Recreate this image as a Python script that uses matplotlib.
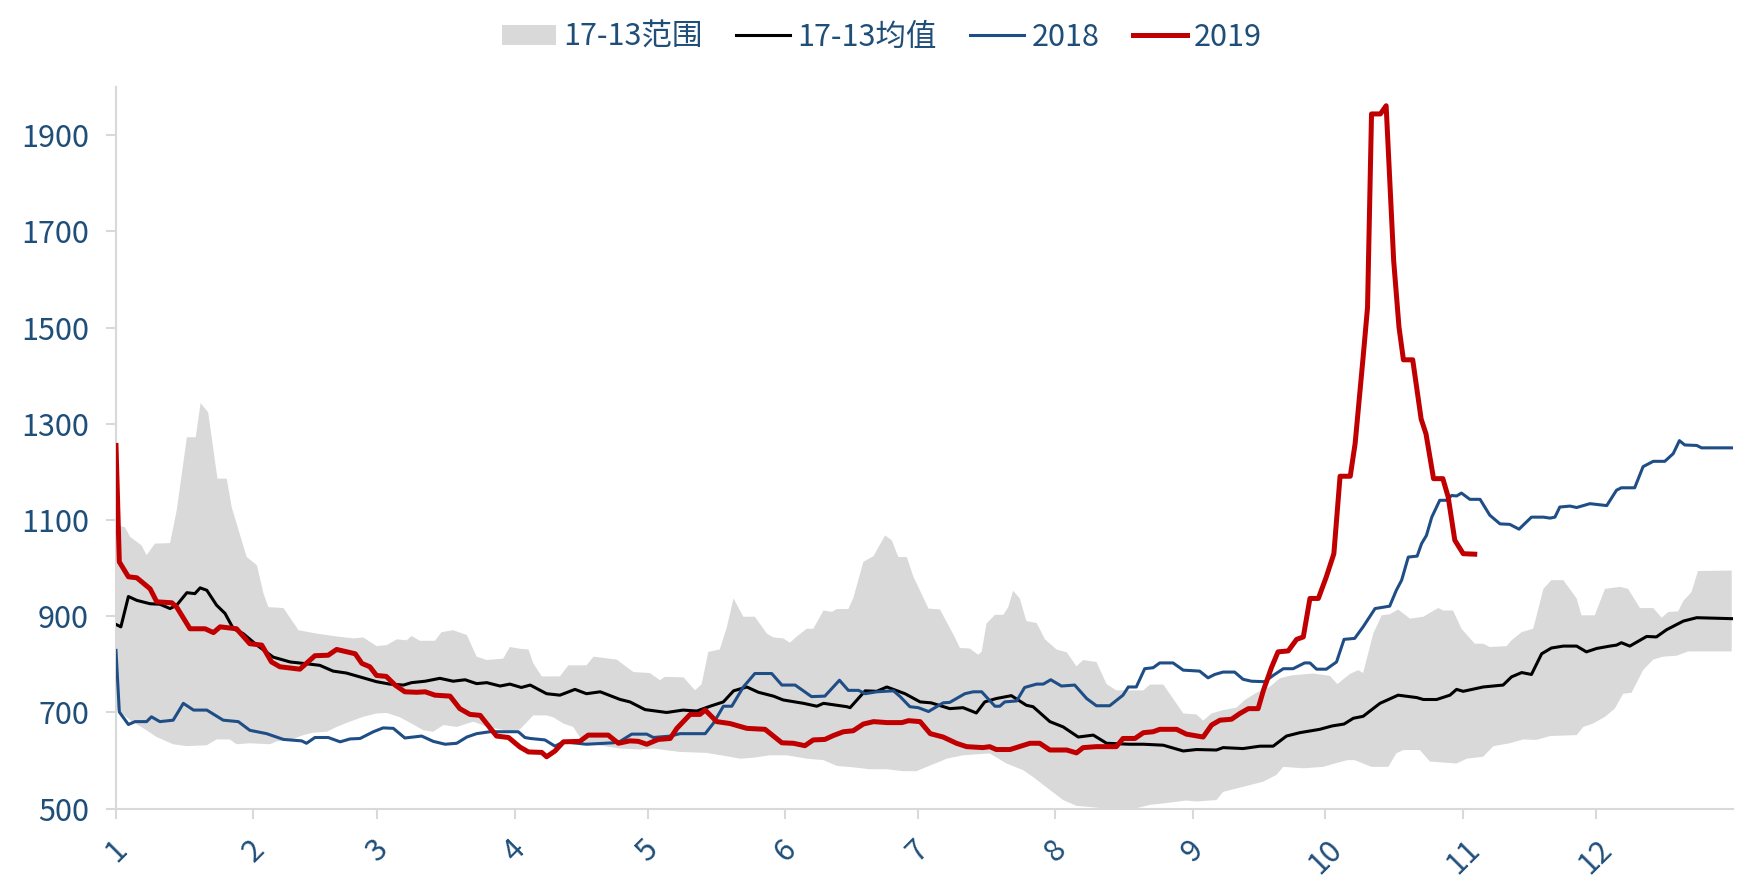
import numpy as np
import matplotlib
matplotlib.use("Agg")
import matplotlib.pyplot as plt

plt.rcParams['font.family'] = ['Noto Sans CJK SC', 'DejaVu Sans']

# day of year (0 = 1 Jan) and values
red_day = [0, 0.75, 2.8, 4.7, 7.7, 9.2, 12.6, 13.7, 16.7, 20.1, 22, 23.5, 27.2, 30.2, 32.9, 35.1, 37,
           41.5, 44.9, 47.9, 49.8, 54, 55.5, 57.3, 58.8, 61, 63, 65.2, 67.9, 69.8, 72, 75.4, 77.6,
           79.9, 82.2, 85.9, 88.6, 91.2, 93.1, 96.1, 97.2, 99.1, 101, 104.7, 106.6, 111.1, 113.4,
           116, 117.9, 119.8, 122.4, 125.1, 126.6, 129.6, 131.8, 133, 135.6, 138.6, 142.4, 146.5,
           150.3, 152.9, 155.5, 157.4, 160, 161.9, 164.2, 166.4, 168.7, 171, 174, 177.4, 178.9,
           181.5, 183.8, 186.7, 189.7, 192, 195.7, 197.2, 198.7, 201.8, 206.3, 208.5, 210.8, 214.6,
           216.8, 218.3, 221.3, 225.8, 227.3, 230, 231.9, 234.1, 235.6, 239.4, 241.6, 245.4, 247.3,
           249.2, 251.8, 253.7, 255.6, 257.8, 259, 260.8, 262.3, 264.6, 266.5, 268, 269.5, 271.4,
           273.2, 274.9, 276.3, 278.6, 279.7, 281.5, 282.5, 283.4, 285.4, 286.7, 287.3, 288.4,
           289.6, 290.6, 292.7, 294.6, 295.7, 297.4, 299.5, 300.7, 302.2, 304.1, 306.7]
red_val = [1255, 1013, 982, 980, 957, 930, 928, 919, 874, 874, 866, 878, 874, 843, 840, 805, 795,
           790, 818, 819, 831, 822, 802, 795, 777, 775, 757, 743, 742, 743, 736, 734, 708,
           696, 694, 651, 648, 628, 618, 617, 608, 620, 639, 640, 653, 653, 636,
           641, 640, 634, 644, 646, 667, 696, 696, 705, 681, 677, 667, 665,
           637, 636, 631, 643, 644, 652, 660, 662, 676, 681, 679, 679, 683,
           681, 656, 649, 636, 629, 627, 629, 623, 623, 636, 636, 622, 622,
           616, 627, 629, 629, 646, 646, 658, 660, 665, 665, 655, 649, 674,
           684, 686, 698, 708, 708, 746, 793, 826, 828, 852, 857, 937, 937,
           982, 1030, 1191, 1191, 1259, 1438, 1542, 1944, 1944, 1961, 1847, 1639,
           1501, 1433, 1433, 1310, 1279, 1186, 1186, 1148, 1058, 1030, 1029]

mean_day = [0, 1.1, 2.8, 4.7, 7.7, 9.9, 12.2, 13.7, 16, 17.8, 19, 20.5, 22.7, 24.6, 26.5, 28.7, 31.8,
            35.5, 39.3, 42.3, 46, 49, 52, 55.8, 58.8, 61.8, 64.9, 66.7, 69.8, 73.1, 76.1, 78.8,
            81.4, 83.7, 86.7, 88.9, 91.5, 93.5, 97.2, 100.2, 103.6, 106.2, 109.3, 113.8, 116,
            119.4, 124.3, 128, 131.1, 134.1, 137.1, 139.4, 142.4, 145, 148.4, 150.6, 155.2, 158.2,
            159.7, 165, 165.7, 169.1, 171.7, 174, 178.1, 181.5, 184, 188.2, 191.2, 194.2, 196.1,
            198.7, 202.1, 205.5, 207, 210.8, 213.8, 217.2, 220.6, 223.6, 228.8, 231.9, 236.4,
            240.9, 243.9, 248.4, 249.9, 254.4, 258.2, 261.2, 264.2, 267.2, 271.7, 274.5, 277.2,
            279.3, 281.5, 285.3, 289.4, 293.6, 295.1, 298.1, 301.1, 302.6, 304.1, 308.6, 313.1,
            315, 317.3, 319.5, 321.8, 324, 326.7, 329.7, 331.9, 334.2, 337.2, 338.7, 339.8, 341.7,
            345.5, 347.7, 350, 353.8, 356.8, 364.7]
mean_val = [883, 878, 941, 933, 926, 925, 916, 923, 949, 947, 959, 954, 923, 906, 874, 864, 840,
            815, 805, 802, 798, 786, 782, 772, 764, 759, 757, 762, 765, 771, 765, 768,
            760, 762, 755, 759, 752, 757, 739, 736, 748, 739, 743, 727, 722,
            706, 700, 705, 703, 713, 722, 745, 753, 742, 734, 726, 719, 713,
            719, 712, 710, 745, 744, 753, 739, 722, 720, 708, 710, 699, 722,
            729, 735, 715, 712, 681, 670, 649, 653, 636, 634, 634, 632,
            620, 623, 622, 627, 625, 630, 630, 651, 658, 665, 672, 676,
            688, 692, 719, 736, 731, 727, 727, 736, 748, 744, 753, 757,
            774, 783, 779, 822, 834, 838, 838, 826, 833, 838, 840, 845, 838,
            858, 857, 872, 890, 897, 895]

y18_day = [0, 0.75, 2.8, 4.3, 6.9, 8, 9.9, 12.9, 15.2, 17.5, 20.5, 24.2, 27.6, 30.2, 34, 37.8, 41.9,
           43, 44.9, 47.9, 50.6, 52.8, 55.1, 58.1, 60.3, 62.6, 65.2, 69, 71.6, 74.3, 76.9, 79.2,
           81.4, 84.4, 90.8, 92.3, 93.5, 96.8, 99.1, 101, 106.2, 112.3, 113.8, 116.4, 119.8, 121.3,
           125.1, 127.3, 133, 134.8, 137.1, 139, 141.6, 144.2, 148, 150.3, 153.3, 157, 160, 161.6,
           163.3, 165.3, 167.6, 169.1, 171.7, 175.5, 177, 179.2, 181.1, 183.4, 186.7, 188.2, 191.6,
           193.5, 195.4, 198.4, 199.5, 200.6, 203.3, 205.1, 207.8, 209.3, 211, 213.4, 216.4, 219.1,
           221.3, 224.3, 227.3, 228.5, 230.3, 232.2, 234.1, 235.6, 238.6, 240.9, 244.6, 246.5, 248,
           249.9, 252.5, 254.4, 256.3, 259.3, 261.2, 263.5, 265.7, 268.3, 269.5, 271, 273.2, 275.5,
           277.2, 279.6, 281.5, 284.2, 287.5, 289, 290.2, 291.7, 293.7, 294.7, 295.8, 297, 298.8,
           300.3, 301.5, 302.6, 303.7, 305.6, 307.9, 310.1, 312.4, 314.6, 316.7, 319.5, 322.2,
           323.7, 324.8, 325.9, 328.2, 329.7, 332.7, 336.5, 338.7, 339.8, 342.8, 344.7, 347, 349.6,
           351.5, 352.9, 354.1, 356.8, 357.9, 364.7]
y18_val = [829, 701, 675, 681, 681, 691, 681, 684, 719, 705, 705, 684, 681, 663, 656, 644, 641,
           636, 648, 648, 639, 645, 646, 660, 668, 667, 647, 651, 640, 634, 636, 649,
           656, 660, 660, 648, 646, 643, 630, 639, 634, 637, 640, 655, 655, 648,
           651, 656, 656, 677, 713, 713, 753, 781, 781, 757, 757, 733, 734, 750,
           767, 746, 746, 739, 743, 745, 733, 712, 710, 702, 720, 721, 739,
           743, 743, 713, 713, 722, 724, 752, 759, 759, 768, 755, 757, 729,
           714, 714, 736, 753, 753, 791, 793, 803, 803, 788, 786, 772, 779,
           784, 784, 769, 765, 764, 777, 791, 791, 803, 803, 790, 790, 805,
           852, 854, 878, 916, 921, 954, 975, 1023, 1025, 1051, 1068, 1106, 1141,
           1141, 1151, 1150, 1156, 1143, 1143, 1110, 1092, 1091, 1081, 1106, 1106,
           1104, 1106, 1127, 1129, 1126, 1134, 1130, 1162, 1167, 1167, 1211, 1222, 1222,
           1238, 1265, 1256, 1255, 1250, 1250]

band_hi_day = [0, 2, 3.2, 5.8, 6.9, 8.8, 12.2, 13.7, 16, 18, 19.1, 20.8, 22.9, 25, 26.1, 29.5, 31.8,
               33.3, 34.4, 37.8, 41.2, 45.3, 49.8, 53.6, 55.8, 58.8, 61.1, 63.4, 65.6, 66.7, 68.6,
               72, 73.5, 76.1, 79.2, 81.4, 83.7, 87.4, 88.9, 91.5, 93.1, 94.2, 96.1, 100.2, 102.1,
               106.2, 107.8, 113, 116.8, 120.5, 122.8, 123.9, 128.1, 130.7, 132.2, 133.7, 136.3,
               137.9, 139.4, 141.6, 144.2, 146.9, 148.4, 150.6, 152.1, 153.7, 155.9, 157.4, 159.7,
               161.6, 162.7, 165.3, 166.4, 168.7, 171, 173.6, 175.1, 176.6, 178.5, 180, 183.4, 186,
               189.3, 190.5, 192.7, 194.6, 195.4, 196.5, 198.4, 200.3, 201.4, 202.5, 204, 205.5,
               207.8, 209.7, 212.3, 214.6, 216.8, 218.3, 221.3, 223.6, 225.8, 231.9, 233.4, 236.4,
               238.6, 240.9, 243.9, 245.4, 247.3, 249.9, 252.9, 254.8, 257.4, 260.4, 262.7, 265.3,
               270.2, 274, 275.7, 278.5, 280.4, 281.5, 283.8, 285.7, 287.5, 289.4, 292.1, 295.1,
               297.3, 298.5, 299.6, 301.8, 303.7, 306.7, 308.6, 310.1, 313.9, 315, 317.3, 319.9,
               322.2, 324, 326.7, 329.7, 330.8, 333.8, 336.1, 339.5, 341.3, 344, 347, 348.9, 350.4,
               352.6, 353.8, 355.6, 357.1, 364.7]
band_hi = [1090, 1085, 1065, 1047, 1027, 1051, 1052, 1120, 1272, 1272, 1343, 1324, 1186, 1186, 1127,
           1023, 1006, 947, 919, 917, 871, 864, 858, 854, 856, 838, 840, 852, 850, 859, 849,
           849, 867, 871, 861, 816, 809, 812, 836, 832, 831, 802, 775, 775, 798,
           798, 816, 810, 784, 782, 767, 774, 773, 746, 759, 826, 831,
           878, 937, 899, 899, 864, 856, 854, 845, 858, 874, 874, 912,
           909, 915, 915, 937, 1013, 1025, 1068, 1058, 1023, 1023, 982, 916, 914,
           857, 834, 833, 820, 826, 885, 903, 903, 919, 953, 937, 890,
           886, 852, 831, 825, 796, 809, 805, 759, 746, 746, 758, 758,
           729, 698, 696, 683, 698, 705, 710, 726, 741, 753, 771, 777,
           781, 776, 759, 780, 788, 782, 864, 902, 904, 914, 895, 899,
           911, 917, 912, 912, 874, 843, 843, 836, 838, 850, 867, 874,
           957, 975, 975, 937, 902, 902, 957, 961, 957, 917, 917, 897, 909,
           910, 932, 950, 994, 995]

band_lo_day = [0, 3.2, 6.2, 9.2, 12.9, 16, 20.5, 22.7, 25.7, 27.2, 30.2, 34.8, 36.3, 39.3, 42.3,
               44.5, 47.6, 49.8, 52.8, 55.8, 58.8, 61.1, 64.1, 66.7, 69.4, 71.6, 73.9, 76.9, 80.7,
               83.7, 86.7, 88.9, 91.2, 94.2, 97.2, 98.7, 101, 103.2, 104.7, 106.2, 113.8, 118.3,
               121.3, 127.3, 133.3, 137.9, 140.9, 143.9, 147.6, 151.4, 155.9, 159.7, 162.7, 166.4,
               170.2, 174, 177.7, 180.7, 183, 186, 187.5, 191.2, 197.2, 201, 204.8, 207, 210.8,
               213.8, 216.8, 222.8, 230.3, 233.4, 236.4, 241.6, 243.9, 248.4, 249.9, 252.9, 255.9,
               258.9, 261.9, 263.5, 268, 272.5, 275.5, 278, 279.6, 283.4, 287.2, 289, 290.6, 294.3,
               296.6, 302.6, 304.9, 308.6, 310.9, 314.6, 317.6, 320.6, 323.7, 329.7, 331.2, 333.4,
               336.1, 338.3, 340.2, 342.1, 344.7, 347, 349.2, 352.3, 354.9, 364.7]
band_lo = [708, 684, 667, 649, 634, 630, 632, 644, 644, 634, 636, 634, 640, 643, 653,
           658, 660, 670, 681, 691, 698, 699, 690, 677, 663, 660, 674, 670, 681,
           670, 665, 660, 665, 694, 694, 690, 677, 670, 649, 636, 625, 623,
           625, 618, 616, 609, 604, 606, 611, 611, 604, 601, 589, 586,
           582, 582, 578, 578, 587, 598, 604, 611, 615, 594, 580, 566, 539,
           518, 506, 501, 501, 508, 511, 517, 515, 518, 535, 542, 549,
           556, 570, 587, 584, 587, 595, 601, 601, 587, 587, 615, 622, 622,
           598, 594, 604, 608, 630, 636, 644, 643, 651, 653, 670, 677,
           691, 708, 739, 741, 788, 810, 816, 818, 827, 827]

month_start = [0, 31, 59, 90, 120, 151, 181, 212, 243, 273, 304, 334]
month_labels = [str(m) for m in range(1, 13)]
y_ticks = list(range(500, 2000, 200))

label_color = '#1F4E79'
axis_color = '#D9D9D9'

fig = plt.figure(figsize=(17.47, 8.85), dpi=100)
ax = fig.add_axes([0.0664, 0.0862, 0.9256, 0.8155])

ax.fill(np.r_[band_hi_day, band_lo_day[::-1]], np.r_[band_hi, band_lo[::-1]],
        color='#D9D9D9', lw=0, label='17-13范围', zorder=1)
ax.plot(mean_day, mean_val, color='black', lw=2.2, label='17-13均值', zorder=3)
ax.plot(y18_day, y18_val, color='#1F4E86', lw=2.2, label='2018', zorder=4)
ax.plot(red_day, red_val, color='#C00000', lw=3.6, label='2019', zorder=5)

ax.set_xlim(0, 365)
ax.set_ylim(500, 2000)
ax.set_xticks(month_start)
ax.set_xticklabels(month_labels, rotation=45, ha='center', va='top')
ax.set_yticks(y_ticks)

for side in ['top', 'right']:
    ax.spines[side].set_visible(False)
for side in ['left', 'bottom']:
    ax.spines[side].set_color(axis_color)
    ax.spines[side].set_linewidth(1.5)

ax.tick_params(axis='both', colors=axis_color, labelcolor=label_color,
               labelsize=22, length=7.5, width=1.5)
ax.tick_params(axis='y', pad=12)
ax.tick_params(axis='x', pad=11)

fig.legend(loc='center', bbox_to_anchor=(0.505, 0.958), ncol=4, frameon=False,
           fontsize=22, labelcolor=label_color, handlelength=1.75,
           handletextpad=0.25, columnspacing=1.1, handleheight=0.6)

fig.savefig('out.png', dpi=100)
